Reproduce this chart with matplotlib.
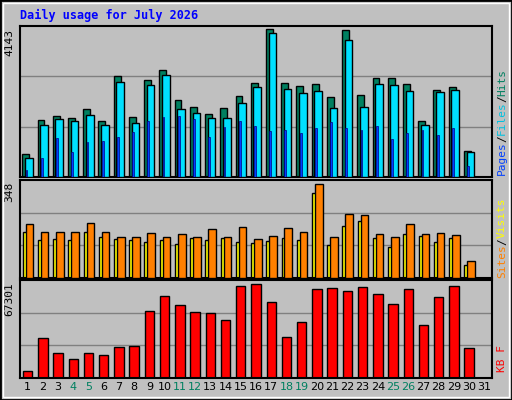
import numpy as np
import matplotlib.pyplot as plt

days = np.arange(1, 32)
hits = [631, 1564, 1674, 1619, 1866, 1537, 2771, 1646, 2662, 2936, 2113, 1921, 1729, 1893, 2223,
        2579, 4061, 2579, 2497, 2552, 2195, 4034, 2250, 2717, 2717, 2552, 1537, 2387, 2470, 713, 0]
files = [521, 1427, 1592, 1537, 1701, 1427, 2607, 1482, 2524, 2799, 1866, 1756, 1619, 1619, 2031,
         2470, 3951, 2415, 2305, 2360, 1893, 3759, 1921, 2552, 2524, 2360, 1427, 2332, 2387, 686, 0]
pages = [192, 521, 1070, 686, 960, 988, 1098, 1235, 1537, 1646, 1674, 1592, 1098, 1372, 1537,
         1400, 1250, 1300, 1200, 1350, 1500, 1350, 1300, 1400, 1050, 1200, 1300, 1150, 1350, 300, 0]
visits = [192, 163, 163, 163, 195, 163, 146, 146, 160, 146, 156, 146, 174, 146, 181,
          138, 149, 178, 163, 334, 146, 227, 224, 156, 146, 192, 156, 160, 153, 60, 0]
sites = [163, 135, 138, 135, 163, 146, 138, 135, 128, 135, 121, 142, 135, 142, 128,
         124, 131, 142, 135, 302, 117, 185, 202, 142, 110, 156, 149, 128, 142, 46, 0]
kbytes = [4807, 27468, 17168, 13047, 17168, 15794, 21288, 21974, 46009, 56309, 50129, 45322, 44636, 39829, 63177,
          64550, 52189, 28155, 38455, 61117, 61803, 59743, 62490, 57683, 50816, 61117, 36395, 55623, 63177, 20601, 0]
weekend = [4, 5, 11, 12, 18, 19, 25, 26]

W, H = 512, 400
fig = plt.figure(figsize=(W / 100, H / 100), dpi=100)
fig.patch.set_facecolor('#C0C0C0')
mono = 'DejaVu Sans Mono'

# outer border
fig.add_artist(plt.Rectangle((0, 0), 1, 1, transform=fig.transFigure, fill=False, edgecolor='black', lw=2))
fig.add_artist(plt.Rectangle((3 / W, 3 / H), 1 - 6 / W, 1 - 6 / H, transform=fig.transFigure,
                             fill=False, edgecolor='white', lw=1))

def add_ax(top, bottom):
    ax = fig.add_axes([20 / W, 1 - bottom / H, 472 / W, (bottom - top) / H])
    ax.set_facecolor('#C0C0C0')
    ax.set_xlim(0.5, 31.5)
    ax.set_xticks([])
    ax.set_yticks([])
    for s in ax.spines.values():
        s.set_color('black')
        s.set_linewidth(1.5)
    return ax

def grid(ax, vmax):
    ax.set_ylim(0, vmax)
    for f in (1 / 3, 2 / 3):
        ax.axhline(vmax * f, color='#808080', lw=1, zorder=0)

ec = dict(edgecolor='black', linewidth=1)

ax1 = add_ax(26, 177)
grid(ax1, 4143)
ax1.bar(days - 0.12, hits, width=0.45, color='#008060', zorder=2, **ec)
ax1.bar(days + 0.08, files, width=0.5, color='#00E0FF', zorder=3, **ec)
ax1.bar(days - 0.07, pages, width=0.12, color='#0040FF', zorder=4, edgecolor='#000080', linewidth=0.5)

ax2 = add_ax(180, 278)
grid(ax2, 348)
ax2.bar(days - 0.1, sites, width=0.45, color='#FFFF00', zorder=2, **ec)
ax2.bar(days + 0.12, visits, width=0.5, color='#FF8000', zorder=3, **ec)

ax3 = add_ax(280, 378)
grid(ax3, 67301)
ax3.bar(days, kbytes, width=0.62, color='#FF0000', zorder=2, **ec)

for d in days:
    ax3.text(d, -0.04, str(d), transform=ax3.get_xaxis_transform(), ha='center', va='top',
             fontsize=8, color='#008060' if d in weekend else 'black')

for ax, lab in ((ax1, '4143'), (ax2, '348'), (ax3, '67301')):
    ax.text(-0.012, 0.98, lab, transform=ax.transAxes, rotation=90, ha='right', va='top',
            fontsize=8, family=mono)

fig.text(20 / W, 1 - 15 / H, 'Daily usage for July 2026', color='#0000FF', fontsize=8.5,
         fontweight='bold', family=mono, va='center')

def side_label(parts, y_bottom):
    y = y_bottom
    for txt, col in parts:
        t = fig.text(502 / W, y / H, txt, rotation=90, color=col, fontsize=8, family=mono,
                     ha='center', va='bottom')
        y += len(txt) * 6.6

side_label([('Pages', '#0040FF'), ('/', 'black'), ('Files', '#00C0E0'), ('/', 'black'), ('Hits', '#008060')], 400 - 175)
side_label([('Sites', '#FF8000'), ('/', 'black'), ('Visits', '#FFFF00')], 400 - 278)
side_label([('KB F', '#FF0000')], 400 - 372)

fig.savefig('out.png', dpi=100, facecolor=fig.get_facecolor())
